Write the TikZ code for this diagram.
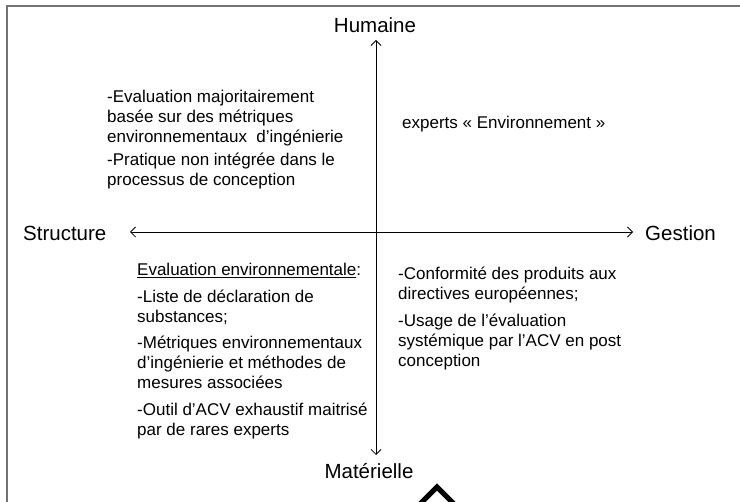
\documentclass[tikz,border=0pt]{standalone}
\usepackage{fontspec}
\setmainfont{Liberation Sans}
\usetikzlibrary{arrows.meta,calc}
\begin{document}
\begin{tikzpicture}[x=1pt,y=-1pt,
  axislabel/.style={font=\fontsize{20.5}{24}\selectfont, inner sep=0pt},
  body/.style={font=\fontsize{17}{20}\selectfont, inner sep=0pt, align=left, anchor=north west},
  single/.style={font=\fontsize{17}{20}\selectfont, inner sep=0pt, anchor=base west},
  axisline/.style={line width=0.8pt, {Straight Barb[length=5pt,width=10pt]}-{Straight Barb[length=5pt,width=10pt]}},
  framestyle/.style={draw=black!55, line width=2.4pt}]
\useasboundingbox (0,0) rectangle (740,502);
\clip (0,0) rectangle (740,502);
% frame
\draw[framestyle] (7,510) -- (7,6) -- (745,6);
% axes
\coordinate (top) at (376,40);
\coordinate (bot) at (376,455);
\coordinate (lft) at (130,232);
\coordinate (rgt) at (633,232);
\draw[axisline] (top) -- (bot);
\draw[axisline] (lft) -- (rgt);
% axis labels
\node[axislabel] (hum) at (375,25) {Humaine};
\node[axislabel, anchor=west] (str) at (23,233) {Structure};
\node[axislabel, anchor=west] (ges) at (645,233) {Gestion};
\node[axislabel] (mat) at (369,471) {Matérielle};
% quadrant texts
\node[body] (tl) at (107,90) {-Evaluation majoritairement\\basée sur des métriques\\environnementaux \ d’ingénierie\\[3pt]-Pratique non intégrée dans le\\processus de conception};
\node[single] (tr) at (402,129) {experts « Environnement »};
\node[body] (bl) at (137,263) {\underline{Evaluation environnementale}:\\[7pt]-Liste de déclaration de\\substances;\\[6pt]-Métriques environnementaux\\d’ingénierie et méthodes de\\mesures associées\\[7pt]-Outil d’ACV exhaustif maitrisé\\par de rares experts};
\node[body] (br) at (398,267) {-Conformité des produits aux\\directives européennes;\\[7pt]-Usage de l’évaluation\\systémique par l’ACV en post\\conception};
% chevron at bottom
\coordinate (chev) at (437,487);
\draw[line width=5pt, line join=miter] ($(chev)+(-22,22)$) -- (chev) -- ($(chev)+(22,22)$);
\end{tikzpicture}
\end{document}
